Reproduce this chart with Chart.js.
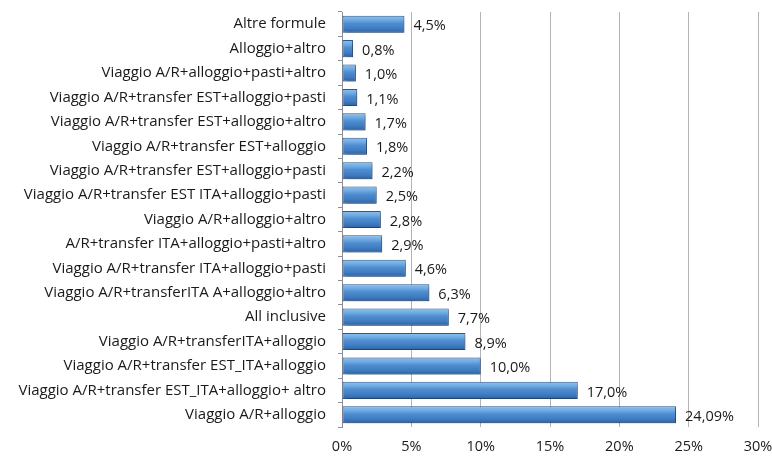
<!DOCTYPE html>
<html>
<head>
<meta charset="utf-8">
<script src="https://cdn.jsdelivr.net/npm/chart.js@4"></script>
<style>
  html, body { margin: 0; padding: 0; background: #fff; }
  #wrap { width: 772px; height: 459px; }
</style>
</head>
<body>
<div id="wrap"><canvas id="grafico" width="772" height="459"></canvas></div>
<script>
// Categorie (dall'alto verso il basso)
const categorie = [
    'Altre formule',
    'Alloggio+altro',
    'Viaggio A/R+alloggio+pasti+altro',
    'Viaggio A/R+transfer EST+alloggio+pasti',
    'Viaggio A/R+transfer EST+alloggio+altro',
    'Viaggio A/R+transfer EST+alloggio',
    'Viaggio A/R+transfer EST+alloggio+pasti',
    'Viaggio A/R+transfer EST ITA+alloggio+pasti',
    'Viaggio A/R+alloggio+altro',
    'A/R+transfer ITA+alloggio+pasti+altro',
    'Viaggio A/R+transfer ITA+alloggio+pasti',
    'Viaggio A/R+transferITA A+alloggio+altro',
    'All inclusive',
    'Viaggio A/R+transferITA+alloggio',
    'Viaggio A/R+transfer EST_ITA+alloggio',
    'Viaggio A/R+transfer EST_ITA+alloggio+ altro',
    'Viaggio A/R+alloggio'
];

// Percentuali
const valori = [4.5, 0.8, 1.0, 1.1, 1.7, 1.8, 2.2, 2.5, 2.8, 2.9, 4.6, 6.3, 7.7, 8.9, 10.0, 17.0, 24.09];

// Etichette dei valori come nel grafico originale
const etichette = ['4,5%', '0,8%', '1,0%', '1,1%', '1,7%', '1,8%', '2,2%', '2,5%', '2,8%', '2,9%',
    '4,6%', '6,3%', '7,7%', '8,9%', '10,0%', '17,0%', '24,09%'];

// Tacche asse X
const tickX = [0, 5, 10, 15, 20, 25, 30];

const FONT = '"Open Sans", "DejaVu Sans", sans-serif';
const BAR_PCT = 0.7;

// Sfumatura verticale per ogni barra
function coloreBarra(ctx) {
    const chart = ctx.chart;
    const y = chart.scales.y;
    if (!chart.chartArea || !y) return '#4a86c8';
    const c = y.getPixelForValue(ctx.dataIndex);
    const h = (y.height / categorie.length) * BAR_PCT;
    const g = chart.ctx.createLinearGradient(0, c - h / 2, 0, c + h / 2);
    g.addColorStop(0, '#8cc2ee');
    g.addColorStop(0.25, '#6eaae3');
    g.addColorStop(0.45, '#4f8dd0');
    g.addColorStop(0.75, '#3f7bc0');
    g.addColorStop(1, '#2e60a0');
    return g;
}

// Ombra sotto le barre
const ombra = {
    id: 'ombra',
    beforeDatasetsDraw(chart) {
        const c = chart.ctx;
        c.save();
        c.shadowColor = 'rgba(0,0,0,0.35)';
        c.shadowBlur = 3;
        c.shadowOffsetX = 2;
        c.shadowOffsetY = 2;
    },
    afterDatasetsDraw(chart) {
        chart.ctx.restore();
    }
};

// Etichette dei valori a destra delle barre
const valoriBarre = {
    id: 'valoriBarre',
    afterDraw(chart) {
        const c = chart.ctx;
        const meta = chart.getDatasetMeta(0);
        c.save();
        c.font = '14.5px ' + FONT;
        c.fillStyle = '#1a1a1a';
        c.textAlign = 'left';
        c.textBaseline = 'middle';
        meta.data.forEach((bar, i) => {
            c.fillText(etichette[i], bar.x + 9, bar.y + 2);
        });
        c.restore();
    }
};

new Chart(document.getElementById('grafico'), {
    type: 'bar',
    data: {
        labels: categorie,
        datasets: [{
            data: valori,
            backgroundColor: coloreBarra,
            borderColor: '#2c5a94',
            borderWidth: 1,
            borderSkipped: false,
            categoryPercentage: 1,
            barPercentage: BAR_PCT
        }]
    },
    options: {
        indexAxis: 'y',
        responsive: false,
        animation: false,
        layout: { padding: { top: 12, right: 0, left: 4, bottom: 0 } },
        plugins: {
            legend: { display: false },
            tooltip: { enabled: false }
        },
        scales: {
            x: {
                min: 0,
                max: 30,
                afterFit: (s) => { s.height = 32; s.paddingRight = 14; },
                afterBuildTicks: (s) => { s.ticks = tickX.map(v => ({ value: v })); },
                ticks: {
                    color: '#1a1a1a',
                    font: { family: FONT, size: 14.5 },
                    padding: 11,
                    callback: (v) => v + '%'
                },
                grid: { color: '#b4b4b8', lineWidth: 1, drawTicks: false },
                border: { display: false }
            },
            y: {
                afterFit: (s) => { s.width = 338; s.paddingTop = 0; s.paddingBottom = 0; },
                ticks: {
                    color: '#1a1a1a',
                    font: { family: FONT, size: 15 },
                    padding: 12
                },
                grid: {
                    offset: true,
                    drawOnChartArea: false,
                    drawTicks: true,
                    tickLength: 4,
                    color: '#8e8e94'
                },
                border: { display: true, color: '#8e8e94', width: 1 }
            }
        }
    },
    plugins: [ombra, valoriBarre]
});
</script>
</body>
</html>
